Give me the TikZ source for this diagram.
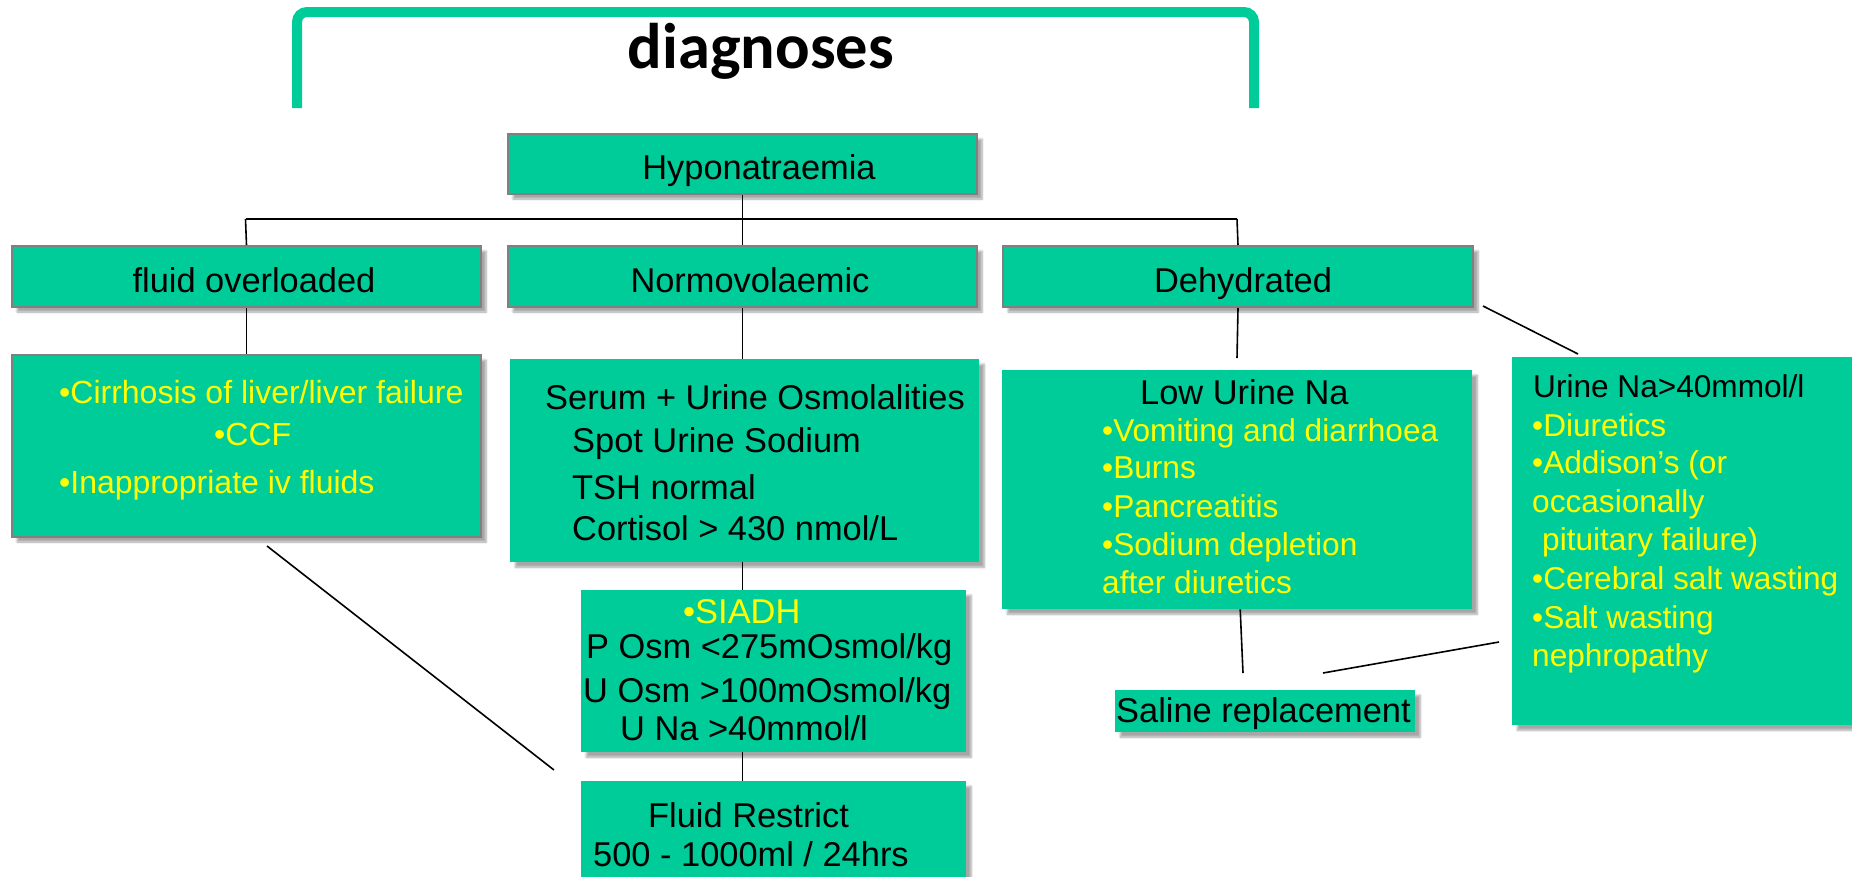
\documentclass[tikz,border=0pt]{standalone}
\usepackage{fontspec}
\setmainfont{Liberation Sans}
\newfontfamily\titlefont{Carlito}
\usetikzlibrary{shadows.blur}
\definecolor{boxgreen}{RGB}{0,204,153}
\definecolor{txtyellow}{RGB}{255,255,0}
\definecolor{bordergray}{RGB}{128,128,128}
\begin{document}
\begin{tikzpicture}[x=1pt,y=-1pt,
  box/.style={fill=boxgreen, inner sep=0pt, anchor=north west,
    blur shadow={shadow xshift=5pt, shadow yshift=-5pt, shadow blur steps=6, shadow opacity=35}},
  hbox/.style={box, draw=bordergray, line width=2pt},
  conn/.style={line width=1.6pt, draw=black},
  bus/.style={line width=2pt, draw=black},
  big/.style={font=\fontsize{34.4}{40}\selectfont, inner sep=0pt},
  small/.style={font=\fontsize{31.6}{38}\selectfont, inner sep=0pt},
  mid/.style={font=\fontsize{32}{38}\selectfont, inner sep=0pt},
  yel/.style={text=txtyellow}]
\useasboundingbox (0,0) rectangle (1852,876);

% bracket and title
\draw[line width=10pt, draw=boxgreen, rounded corners=10pt] (297,108) -- (297,12) -- (1254,12) -- (1254,108);
\node[font=\titlefont\bfseries\fontsize{64.5}{72}\selectfont, anchor=base, inner sep=0pt] (title) at (761,68) {diagnoses};

% boxes
\node[hbox, minimum width=469pt, minimum height=60pt] (hypo) at (507,133) {};
\node[hbox, minimum width=469pt, minimum height=61pt] (fluid) at (11,245) {};
\node[hbox, minimum width=469pt, minimum height=61pt] (normo) at (507,245) {};
\node[hbox, minimum width=470pt, minimum height=61pt] (dehyd) at (1002,245) {};
\node[hbox, minimum width=469pt, minimum height=182pt] (cirr) at (11,354) {};
\node[box, minimum width=469pt, minimum height=203pt] (serum) at (510,359) {};
\node[box, minimum width=385pt, minimum height=162pt] (siadh) at (581,590) {};
\node[box, minimum width=385pt, minimum height=100pt] (restrict) at (581,781) {};
\node[box, minimum width=470pt, minimum height=239pt] (lowna) at (1002,370) {};
\node[box, minimum width=350pt, minimum height=368pt] (urinena) at (1512,357) {};
\node[box, minimum width=300pt, minimum height=42pt] (saline) at (1115,690) {};

% header texts
\node[big, anchor=base] (thypo) at (759,179) {Hyponatraemia};
\node[big, anchor=base] (tfluid) at (254,292) {fluid overloaded};
\node[big, anchor=base] (tnormo) at (750,292) {Normovolaemic};
\node[big, anchor=base] (tdehyd) at (1243,292) {Dehydrated};

% fluid overloaded causes
\node[mid, yel, anchor=base west] (c1) at (59,403) {•Cirrhosis of liver/liver failure};
\node[mid, yel, anchor=base west] (c2) at (214,445) {•CCF};
\node[mid, yel, anchor=base west] (c3) at (59,493) {•Inappropriate iv fluids};

% normovolaemic tests
\node[big, anchor=base west] (s1) at (545,409) {Serum + Urine Osmolalities};
\node[big, anchor=base west] (s2) at (572,452) {Spot Urine Sodium};
\node[big, anchor=base west] (s3) at (572,499) {TSH normal};
\node[big, anchor=base west] (s4) at (572,540) {Cortisol > 430 nmol/L};

% SIADH
\node[big, yel, anchor=base west] (a1) at (683,623) {•SIADH};
\node[big, anchor=base west] (a2) at (586,658) {P Osm <275mOsmol/kg};
\node[big, anchor=base west] (a3) at (583,702) {U Osm >100mOsmol/kg};
\node[big, anchor=base west] (a4) at (620,740) {U Na >40mmol/l};

% fluid restrict
\node[big, anchor=base west] (r1) at (648,827) {Fluid Restrict};
\node[big, anchor=base west] (r2) at (593,866) {500 - 1000ml / 24hrs};

% low urine Na
\node[big, anchor=base west] (l0) at (1140,404) {Low Urine Na};
\node[small, yel, anchor=base west] (l1) at (1102,441) {•Vomiting and diarrhoea};
\node[small, yel, anchor=base west] (l2) at (1102,478) {•Burns};
\node[small, yel, anchor=base west] (l3) at (1102,517) {•Pancreatitis};
\node[small, yel, anchor=base west] (l4) at (1102,555) {•Sodium depletion};
\node[small, yel, anchor=base west] (l5) at (1102,593) {after diuretics};

% urine Na > 40
\node[small, anchor=base west] (u0) at (1533,397) {Urine Na>40mmol/l};
\node[small, yel, anchor=base west] (u1) at (1532,436) {•Diuretics};
\node[small, yel, anchor=base west] (u2) at (1532,473) {•Addison’s (or};
\node[small, yel, anchor=base west] (u3) at (1532,512) {occasionally};
\node[small, yel, anchor=base west] (u4) at (1542,550) {pituitary failure)};
\node[small, yel, anchor=base west] (u5) at (1532,589) {•Cerebral salt wasting};
\node[small, yel, anchor=base west] (u6) at (1532,628) {•Salt wasting};
\node[small, yel, anchor=base west] (u7) at (1532,666) {nephropathy};

% saline
\node[big, anchor=base west] (sal) at (1116,722) {Saline replacement};

% connectors
\coordinate (busL) at (245.5,219);
\coordinate (busR) at (1237,219);
\draw[bus] (busL) -- (busR);
\draw[conn] (hypo.south) -- (hypo.south |- busL);
\draw[conn] (busL) -- (fluid.north);
\draw[conn] (normo.north |- busL) -- (normo.north);
\draw[conn] (busR) -- (dehyd.north);
\draw[conn] (fluid.south) -- (cirr.north);
\draw[conn] (normo.south) -- (normo.south |- serum.north);
\draw[conn] (normo.south |- serum.south) -- (normo.south |- siadh.north);
\draw[conn] (normo.south |- siadh.south) -- (normo.south |- restrict.north);
\coordinate (dhEnd) at (1237,358);
\draw[conn] (dehyd.south) -- (dhEnd);
\coordinate (dhA) at (1483,306);
\coordinate (unaT) at (1578,354);
\draw[conn] (dhA) -- (unaT);
\coordinate (salA) at (1243,673);
\draw[conn] ([xshift=3pt]lowna.south) -- (salA);
\coordinate (unaL) at (1499,642);
\coordinate (salB) at (1323,673);
\draw[conn] (unaL) -- (salB);
\coordinate (cA) at (267,546);
\coordinate (rA) at (554,770);
\draw[conn] (cA) -- (rA);
\end{tikzpicture}
\end{document}
